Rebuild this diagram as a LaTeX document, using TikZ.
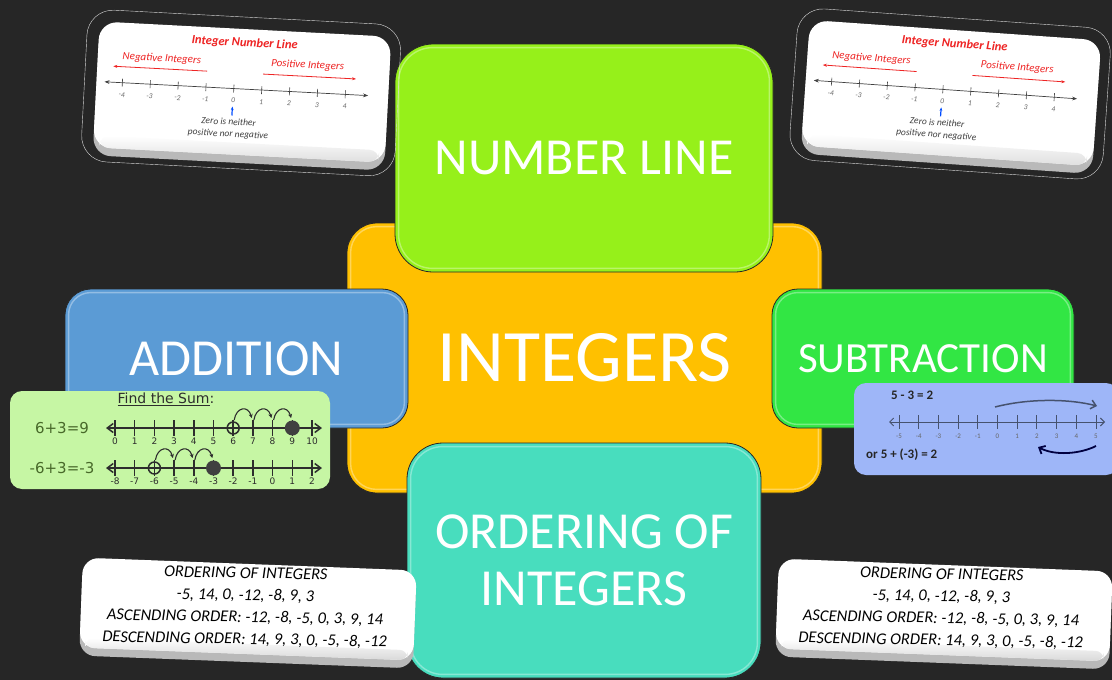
\documentclass[tikz,border=0pt]{standalone}
\usepackage{fontspec}
\setmainfont{Carlito}
\newfontfamily\comicf{DejaVu Sans}
\usetikzlibrary{arrows.meta}
\definecolor{bgc}{RGB}{38,38,38}
\definecolor{orangec}{RGB}{255,192,0}
\definecolor{limec}{RGB}{150,240,26}
\definecolor{bluec}{RGB}{91,155,213}
\definecolor{subgreen}{RGB}{50,230,68}
\definecolor{tealc}{RGB}{72,221,190}
\definecolor{addgreen}{RGB}{198,246,164}
\definecolor{subblue}{RGB}{158,182,248}
\definecolor{olivetext}{RGB}{72,105,42}
\definecolor{cardred}{RGB}{238,36,36}
\definecolor{inkc}{RGB}{45,45,45}
\definecolor{slatec}{RGB}{70,82,110}
\tikzset{
  mainbox/.style={draw=black!85, line width=0.8, text=white, align=center, inner sep=0pt},
  hilite/.style={draw=white, opacity=0.35, line width=1.4},
  picbox/.style={inner sep=0pt, draw=none},
  ticks/.style={line width=1.5, inkc},
  alab/.style={font=\comicf\fontsize{9}{10}\selectfont, text=inkc, inner sep=0pt},
  hop/.style={line width=1.1, inkc, -{Stealth[length=4pt,width=4pt]}},
  slab/.style={font=\fontsize{7}{8}\selectfont, text=black!60, inner sep=0pt},
  eqtext/.style={font=\bfseries\fontsize{13}{14}\selectfont, text=black!85, inner sep=0pt},
  ordtext/.style={font=\itshape\fontsize{16.5}{22}\selectfont, text=black, inner sep=0pt, align=center},
  nlcard/.pic={
    \draw[gray!30, line width=0.4, rounded corners=26] (-158,-78) rectangle (156,74);
    \fill[gray!55, rounded corners=18] (-146,-60) rectangle (146,68);
    \fill[white, rounded corners=18] (-146,-66) rectangle (146,60);
    \shade[top color=white, bottom color=gray!25, rounded corners=10] (-140,48) rectangle (140,60);
    \node[font=\bfseries\itshape\fontsize{12.5}{13}\selectfont, text=cardred, inner sep=0pt] (-title) at (0,-52) {Integer Number Line};
    \node[font=\itshape\fontsize{11}{12}\selectfont, text=cardred, inner sep=0pt] (-neg) at (-82,-32) {Negative Integers};
    \node[font=\itshape\fontsize{11}{12}\selectfont, text=cardred, inner sep=0pt] (-pos) at (64,-33) {Positive Integers};
    \draw[cardred, line width=0.8, -{Stealth[length=4pt]}] (-36,-22) -- (-130,-22);
    \draw[cardred, line width=0.8, -{Stealth[length=4pt]}] (20,-22) -- (113,-22);
    \draw[black!75, line width=0.7, {Stealth[length=5pt]}-{Stealth[length=5pt]}] (-138,-6) -- (126,-6);
    \foreach \k in {-4,...,4} {
      \draw[black!75, line width=0.6] (-8.5+27.9*\k,-10) -- (-8.5+27.9*\k,-2);
      \node[font=\itshape\fontsize{7.5}{8}\selectfont, text=black!60, inner sep=0pt] (-l\k) at (-8.5+27.9*\k,6) {\k};
    }
    \draw[blue!70!cyan, line width=1.2, -{Stealth[length=3.5pt]}] (-9,21) -- (-9,12);
    \node[font=\itshape\fontsize{9.5}{12}\selectfont, text=black!75, inner sep=0pt, align=center] (-zero) at (-12,34) {Zero is neither\\positive nor negative};
  },
  ordcard/.pic={
    \fill[gray!55, rounded corners=16] (-167,-38) rectangle (167,51);
    \fill[white, rounded corners=16] (-167,-47) rectangle (167,43);
    \shade[top color=white, bottom color=gray!30, rounded corners=8] (-161,33) rectangle (161,43);
    \node[ordtext, rotate=1.2] (-txt) at (-3,-4) {ORDERING OF INTEGERS\\-5, 14, 0, -12, -8, 9, 3\\ASCENDING ORDER: -12, -8, -5, 0, 3, 9, 14\\DESCENDING ORDER: 14, 9, 3, 0, -5, -8, -12};
  }
}
\begin{document}
\begin{tikzpicture}[x=1pt,y=-1pt]
\useasboundingbox (0,0) rectangle (1112,680);
\fill[bgc] (0,0) rectangle (1112,680);

% central box
\node[mainbox, fill=orangec, rounded corners=30, minimum width=475pt, minimum height=270pt,
      font=\fontsize{74}{80}\selectfont] (integers) at (584.5,358) {INTEGERS};
\draw[hilite, rounded corners=26] ([shift={(4,4)}]integers.north west) rectangle ([shift={(-4,-4)}]integers.south east);

% number line box
\node[mainbox, fill=limec, rounded corners=38, minimum width=378pt, minimum height=228pt,
      font=\fontsize{52}{57}\selectfont] (numline) at (584,158) {NUMBER LINE};
\draw[hilite, rounded corners=34] ([shift={(4,4)}]numline.north west) rectangle ([shift={(-4,-4)}]numline.south east);

% addition box
\node[mainbox, fill=bluec, rounded corners=26, minimum width=343pt, minimum height=139pt,
      font=\fontsize{52}{57}\selectfont] (addition) at (236.5,358.5) {ADDITION};
\draw[hilite, rounded corners=22] ([shift={(4,4)}]addition.north west) rectangle ([shift={(-4,-4)}]addition.south east);

% subtraction box
\node[mainbox, fill=subgreen, rounded corners=26, minimum width=302pt, minimum height=139pt,
      font=\fontsize{43}{48}\selectfont] (subtraction) at (923,358.5) {SUBTRACTION};
\draw[hilite, rounded corners=22] ([shift={(4,4)}]subtraction.north west) rectangle ([shift={(-4,-4)}]subtraction.south east);

% ordering box
\node[mainbox, fill=tealc, rounded corners=36, minimum width=354pt, minimum height=235pt,
      font=\fontsize{52}{57}\selectfont] (ordering) at (584,560.5) {ORDERING OF\\INTEGERS};
\draw[hilite, rounded corners=32] ([shift={(4,4)}]ordering.north west) rectangle ([shift={(-4,-4)}]ordering.south east);

% ---------- addition picture ----------
\node[picbox, fill=addgreen, rounded corners=12, minimum width=320pt, minimum height=98pt] (addcard) at (170,440) {};
\node[font=\comicf\fontsize{14}{15}\selectfont, text=inkc, inner sep=0pt] (findsum) at (166,399) {\underline{Find the Sum}:};
\node[font=\comicf\fontsize{15}{16}\selectfont, text=olivetext, inner sep=0pt] (eq1) at (62,428) {6+3=9};
\node[font=\comicf\fontsize{15}{16}\selectfont, text=olivetext, inner sep=0pt] (eq2) at (62,468) {-6+3=-3};
\coordinate (r1a) at (106,428); \coordinate (r1b) at (322,428);
\coordinate (r2a) at (106,468); \coordinate (r2b) at (322,468);
\draw[ticks, {Straight Barb[length=6pt,width=9pt]}-{Straight Barb[length=6pt,width=9pt]}] (r1a) -- (r1b);
\draw[ticks, {Straight Barb[length=6pt,width=9pt]}-{Straight Barb[length=6pt,width=9pt]}] (r2a) -- (r2b);
\foreach \i in {0,...,10} {
  \pgfmathsetmacro\xx{115+19.7*\i}
  \pgfmathtruncatemacro\vv{\i-8}
  \draw[ticks] (\xx,420) -- (\xx,436);
  \draw[ticks] (\xx,460) -- (\xx,476);
  \node[alab] (ra\i) at (\xx,441) {\i};
  \node[alab] (rb\i) at (\xx,481) {\vv};
}
% row 1 markers
\draw[ticks, fill=addgreen] (233.2,428) circle (6);
\draw[ticks] (233.2,421) -- (233.2,435) (226.2,428) -- (240.2,428);
\fill[black!75] (292.3,428) circle (7.5);
\foreach \i in {6,7,8} {
  \pgfmathsetmacro\xx{115+19.7*\i}
  \draw[hop] (\xx+1,420) .. controls (\xx+3,407) and (\xx+15,405) .. (\xx+18.5,418);
}
% row 2 markers
\draw[ticks, fill=addgreen] (154.4,468) circle (6);
\draw[ticks] (154.4,461) -- (154.4,475) (147.4,468) -- (161.4,468);
\fill[black!75] (213.5,468) circle (7.5);
\foreach \i in {2,3,4} {
  \pgfmathsetmacro\xx{115+19.7*\i}
  \draw[hop] (\xx+1,460) .. controls (\xx+3,447) and (\xx+15,445) .. (\xx+18.5,458);
}

% ---------- subtraction picture ----------
\node[picbox, fill=subblue, rounded corners=12, minimum width=264pt, minimum height=92pt] (subcard) at (986,429) {};
\node[eqtext, anchor=west] (s1) at (891,395) {5 - 3 = 2};
\node[eqtext, anchor=west] (s2) at (866,455) {or 5 + (-3) = 2};
\coordinate (sa) at (889,422); \coordinate (sb) at (1105,422);
\draw[slatec, line width=0.9, {Straight Barb[length=4pt,width=8pt]}-{Straight Barb[length=4pt,width=8pt]}] (sa) -- (sb);
\foreach \i in {0,...,10} {
  \pgfmathsetmacro\xx{899+19.7*\i}
  \pgfmathtruncatemacro\vv{\i-5}
  \draw[slatec, line width=0.9] (\xx,415) -- (\xx,429);
  \node[slab] (sl\i) at (\xx,436) {\vv};
}
\coordinate (tp0) at (995,407); \coordinate (tp1) at (1097,406);
\draw[slatec, line width=1.5, -{Straight Barb[length=5pt,width=9pt]}] (tp0) .. controls (1030,398) and (1070,399) .. (tp1);
\coordinate (bt0) at (1096,446); \coordinate (bt1) at (1038,447);
\draw[black!75!blue, line width=1.8, -{Straight Barb[length=5pt,width=9pt]}] (bt0) .. controls (1080,454) and (1055,456) .. (bt1);

% ---------- white cards ----------
\pic[rotate=-3, transform shape] (nlA) at (242,95) {nlcard};
\pic[rotate=-4, transform shape] (nlB) at (951,96) {nlcard};
\pic[rotate=-2.2, transform shape] (ordA) at (248,611) {ordcard};
\pic[rotate=-2.2, transform shape] (ordB) at (944,612) {ordcard};
\end{tikzpicture}
\end{document}
